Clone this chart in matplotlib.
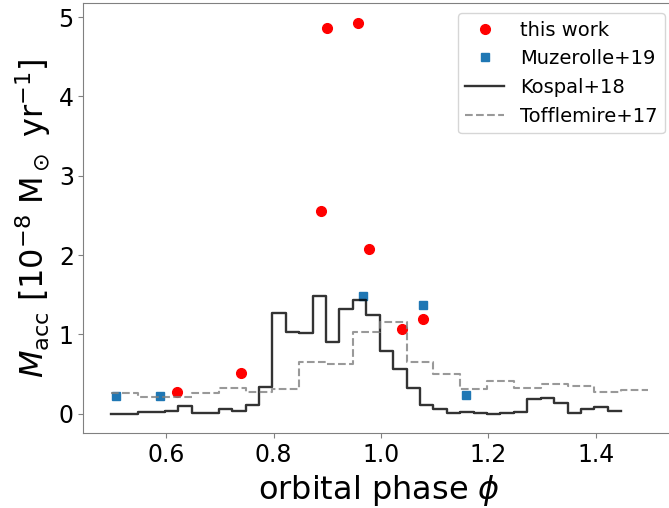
import matplotlib
matplotlib.use('Agg')
import matplotlib.pyplot as plt

# this work: accretion rates at each observed phase
phase_this = [0.619, 0.739, 0.889, 0.899, 0.958, 0.978, 1.039, 1.079]
macc_this = [0.27, 0.52, 2.55, 4.86, 4.93, 2.08, 1.07, 1.20]

# Muzerolle+19
phase_muz = [0.507, 0.589, 0.967, 1.079, 1.158]
macc_muz = [0.23, 0.23, 1.49, 1.37, 0.24]

# Kospal+18, binned light curve (bin edges + value per bin)
edges_kos = [0.4975, 0.5225, 0.5475, 0.5725, 0.5975, 0.6225, 0.6475, 0.6725,
             0.6975, 0.7225, 0.7475, 0.7725, 0.7975, 0.8225, 0.8475, 0.8725,
             0.8975, 0.9225, 0.9475, 0.9725, 0.9975, 1.0225, 1.0475, 1.0725,
             1.0975, 1.1225, 1.1475, 1.1725, 1.1975, 1.2225, 1.2475, 1.2725,
             1.2975, 1.3225, 1.3475, 1.3725, 1.3975, 1.4225, 1.4475]
macc_kos = [0.0, 0.0, 0.02, 0.02, 0.03, 0.10, 0.01, 0.01, 0.065, 0.03,
            0.11, 0.34, 1.27, 1.03, 1.015, 1.485, 0.90, 1.325, 1.43, 1.25,
            0.785, 0.56, 0.33, 0.107, 0.055, 0.015, 0.025, 0.015, 0.0, 0.01,
            0.025, 0.185, 0.20, 0.13, 0.01, 0.055, 0.085, 0.03]

# Tofflemire+17, coarser bins
edges_tof = [0.4975, 0.5475, 0.5975, 0.6475, 0.6975, 0.7475, 0.7975, 0.8475,
             0.8975, 0.9475, 0.9975, 1.0475, 1.0975, 1.1475, 1.1975, 1.2475,
             1.2975, 1.3475, 1.3975, 1.4475, 1.4975]
macc_tof = [0.266, 0.21, 0.21, 0.266, 0.33, 0.28, 0.315, 0.65, 0.63, 1.03,
            1.16, 0.65, 0.50, 0.315, 0.41, 0.33, 0.38, 0.345, 0.28, 0.30]

fig = plt.figure(figsize=(6.69, 5.08), dpi=100)
ax = fig.add_axes([0.1248, 0.147, 0.884, 0.847])

ax.plot(phase_this, macc_this, 'o', color='red', ms=7, label='this work')
ax.plot(phase_muz, macc_muz, 's', color='tab:blue', ms=6, label='Muzerolle+19')
ax.step(edges_kos, macc_kos + [macc_kos[-1]], where='post', color='k',
        alpha=0.8, lw=1.7, label='Kospal+18')
ax.step(edges_tof, macc_tof + [macc_tof[-1]], where='post', color='gray',
        alpha=0.8, lw=1.5, ls='--', label='Tofflemire+17')

ax.set_xlim(0.4456, 1.5475)
ax.set_ylim(-0.2465, 5.176)
ax.set_xticks([0.6, 0.8, 1.0, 1.2, 1.4])

for s in ax.spines.values():
    s.set_color('0.5')
ax.tick_params(labelsize=17, color='0.5', length=3.5)

ax.set_xlabel(r'orbital phase $\phi$', fontsize=23)
ax.set_ylabel(r'$M_{\rm acc}$ [10$^{-8}$ M$_\odot$ yr$^{-1}$]', fontsize=23)
ax.legend(loc='upper right', fontsize=14)

fig.savefig('out.png', dpi=100)
